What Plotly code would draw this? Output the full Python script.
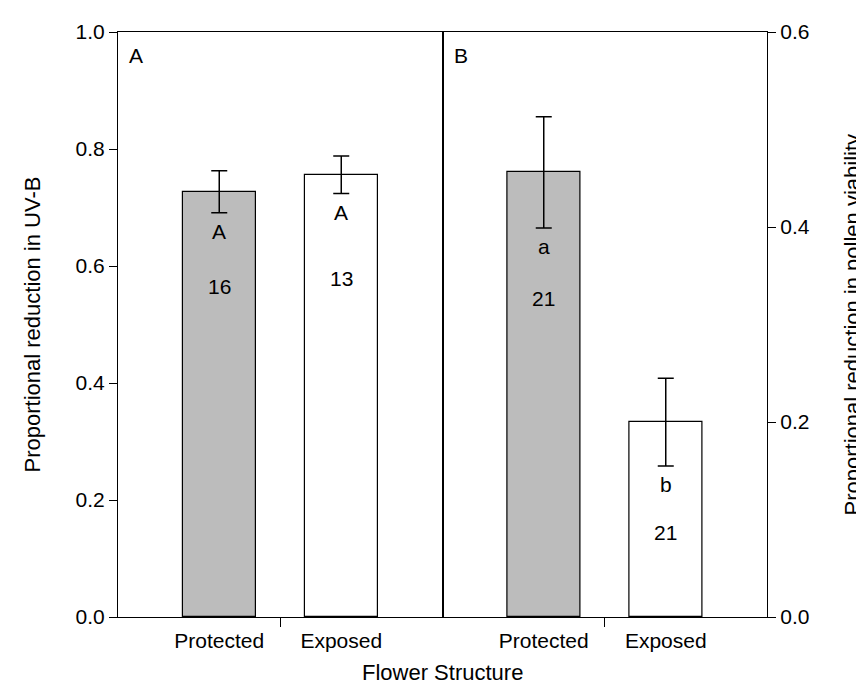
import plotly.graph_objects as go

categories = ["Protected", "Exposed"]
# Panel A: proportional reduction in UV-B (left axis)
uvb_mean = [0.727, 0.756]
uvb_se = [0.036, 0.032]
uvb_letters = ["A", "A"]
uvb_n = ["16", "13"]
# Panel B: proportional reduction in pollen viability (right axis)
pollen_mean = [0.456, 0.200]
pollen_se = [0.057, 0.045]
pollen_letters = ["a", "b"]
pollen_n = ["21", "21"]
panel_labels = ["A", "B"]

FONT = "Liberation Sans, Arial, Helvetica, sans-serif"
GREY = "#bcbcbc"
bar_colors = [GREY, "white"]
xpos = [0, 1]

fig = go.Figure()
fig.add_trace(go.Bar(
    x=xpos, y=uvb_mean, width=0.6, xaxis="x", yaxis="y",
    marker=dict(color=bar_colors, line=dict(color="black", width=1.2)),
    error_y=dict(type="data", array=uvb_se, color="black", thickness=1.5, width=8),
    showlegend=False, hoverinfo="skip"))
fig.add_trace(go.Bar(
    x=xpos, y=pollen_mean, width=0.6, xaxis="x2", yaxis="y2",
    marker=dict(color=bar_colors, line=dict(color="black", width=1.2)),
    error_y=dict(type="data", array=pollen_se, color="black", thickness=1.5, width=8),
    showlegend=False, hoverinfo="skip"))

xrange = [-0.83, 1.83]
common_x = dict(
    range=xrange, tickmode="array", tickvals=xpos, ticktext=categories,
    ticks="", showline=True, linecolor="black", linewidth=1.2, mirror=True,
    showgrid=False, zeroline=False, ticklabelstandoff=5,
    tickfont=dict(family=FONT, size=21, color="black"),
    minor=dict(tickmode="array", tickvals=[0.5], ticks="outside", ticklen=9,
               tickwidth=1.2, tickcolor="black", showgrid=False),
    fixedrange=True,
)
fig.update_layout(
    width=864, height=688,
    margin=dict(l=110, r=105, t=24, b=79),
    paper_bgcolor="white", plot_bgcolor="white",
    bargap=0,
    xaxis=dict(domain=[0, 0.5], anchor="y", **common_x),
    xaxis2=dict(domain=[0.5, 1], anchor="y2", **common_x),
    yaxis=dict(range=[0, 1.0], dtick=0.2, tickformat=".1f", ticks="outside",
               ticklen=8, tickwidth=1.2, tickcolor="black",
               showline=True, linecolor="black", linewidth=1.2, mirror=True,
               showgrid=False, zeroline=False, anchor="x",
               tickfont=dict(family=FONT, size=21, color="black")),
    yaxis2=dict(range=[0, 0.6], dtick=0.2, tickformat=".1f", ticks="outside",
                ticklen=8, tickwidth=1.2, tickcolor="black", side="right",
                showline=True, linecolor="black", linewidth=1.2, mirror=True,
                showgrid=False, zeroline=False, anchor="x2",
                tickfont=dict(family=FONT, size=21, color="black")),
)

ann_font = dict(family=FONT, size=21, color="black")
n_shift = [[-74, -85], [-71, -67]]
for p, (xr, yr, means, ses, letters, ns) in enumerate([
        ("x", "y", uvb_mean, uvb_se, uvb_letters, uvb_n),
        ("x2", "y2", pollen_mean, pollen_se, pollen_letters, pollen_n)]):
    for i in range(len(means)):
        low = means[i] - ses[i]
        fig.add_annotation(x=xpos[i], y=low, xref=xr, yref=yr, text=letters[i],
                           showarrow=False, yanchor="middle", yshift=-19, font=ann_font)
        fig.add_annotation(x=xpos[i], y=low, xref=xr, yref=yr, text=ns[i],
                           showarrow=False, yanchor="middle", yshift=n_shift[p][i], font=ann_font)
    fig.add_annotation(x=xrange[0], y=1 if p == 0 else 0.6, xref=xr, yref=yr,
                       text=panel_labels[p], showarrow=False, xanchor="left",
                       yanchor="top", xshift=9, yshift=-10, font=ann_font)

title_font = dict(family=FONT, size=22, color="black")
fig.add_annotation(text="Proportional reduction in UV-B", xref="paper", yref="paper",
                   x=0, y=0.5, xanchor="center", yanchor="middle", xshift=-86,
                   textangle=-90, showarrow=False, font=title_font)
fig.add_annotation(text="Proportional reduction in pollen viability", xref="paper", yref="paper",
                   x=1, y=0.5, xanchor="center", yanchor="middle", xshift=85,
                   textangle=-90, showarrow=False, font=title_font)
fig.add_annotation(text="Flower Structure", xref="paper", yref="paper",
                   x=0.5, y=0, xanchor="center", yanchor="middle", yshift=-55,
                   showarrow=False, font=title_font)

fig.write_html("out.html")
